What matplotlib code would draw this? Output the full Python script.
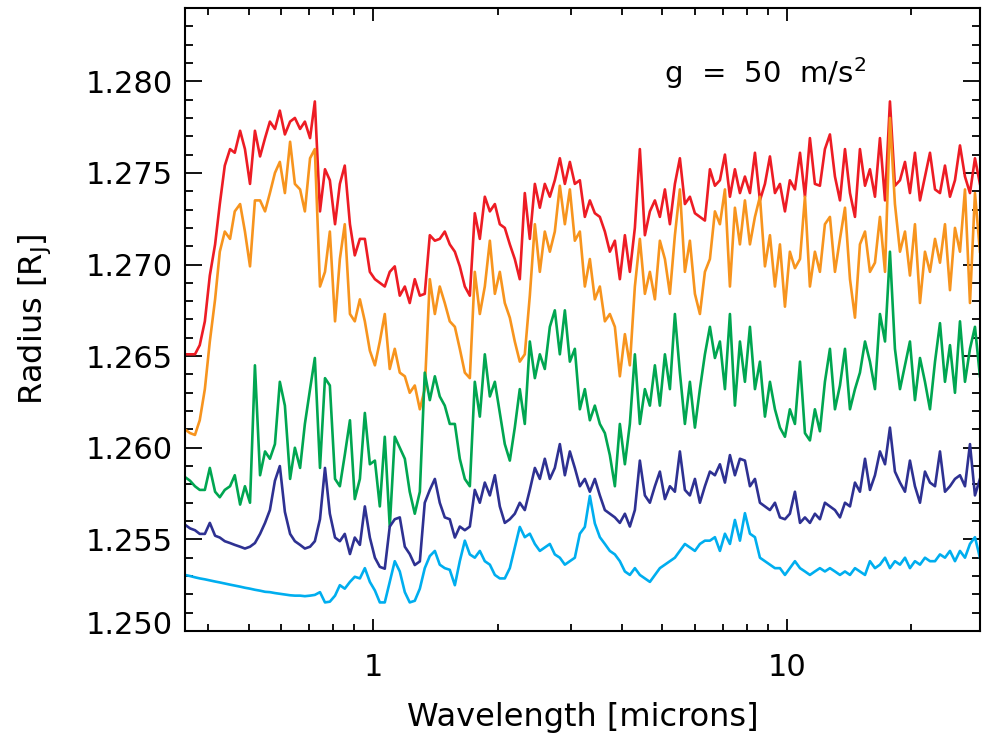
import matplotlib
matplotlib.use('Agg')
import matplotlib.pyplot as plt
import matplotlib.ticker as ticker
import matplotlib.transforms as mtransforms
import numpy as np

# model transit radius spectra, g = 50 m/s^2

wavelength = [0.351, 0.361, 0.371, 0.381, 0.392, 0.403, 0.415, 0.426, 0.438, 0.451,
              0.463, 0.477, 0.490, 0.504, 0.518, 0.533, 0.548, 0.563, 0.579, 0.595,
              0.612, 0.630, 0.647, 0.666, 0.684, 0.704, 0.723, 0.744, 0.765, 0.786,
              0.809, 0.831, 0.854, 0.879, 0.903, 0.929, 0.955, 0.982, 1.010, 1.038,
              1.067, 1.097, 1.128, 1.160, 1.193, 1.226, 1.261, 1.297, 1.333, 1.371,
              1.410, 1.449, 1.490, 1.532, 1.576, 1.620, 1.666, 1.713, 1.761, 1.811,
              1.862, 1.915, 1.969, 2.024, 2.081, 2.140, 2.200, 2.262, 2.326, 2.392,
              2.460, 2.529, 2.600, 2.674, 2.749, 2.827, 2.907, 2.989, 3.073, 3.160,
              3.249, 3.341, 3.435, 3.532, 3.632, 3.734, 3.840, 3.948, 4.060, 4.174,
              4.292, 4.413, 4.538, 4.666, 4.798, 4.933, 5.073, 5.216, 5.363, 5.514,
              5.670, 5.830, 5.995, 6.164, 6.338, 6.517, 6.701, 6.890, 7.085, 7.285,
              7.490, 7.702, 7.919, 8.143, 8.373, 8.609, 8.852, 9.102, 9.359, 9.623,
              9.895, 10.17, 10.46, 10.76, 11.06, 11.37, 11.69, 12.02, 12.36, 12.71,
              13.07, 13.44, 13.82, 14.21, 14.61, 15.02, 15.45, 15.88, 16.33, 16.79,
              17.27, 17.75, 18.25, 18.77, 19.30, 19.84, 20.40, 20.98, 21.57, 22.18,
              22.81, 23.45, 24.11, 24.79, 25.49, 26.21, 26.95, 27.71, 28.49, 29.29]

radius_red = [1.2651, 1.2651, 1.2651, 1.2656, 1.2669, 1.2694, 1.2711, 1.2733, 1.2754, 1.2763,
              1.2761, 1.2773, 1.2763, 1.2744, 1.2773, 1.2759, 1.2769, 1.2778, 1.2774, 1.2784,
              1.2771, 1.2778, 1.2780, 1.2774, 1.2778, 1.2769, 1.2789, 1.2729, 1.2752, 1.2746,
              1.2722, 1.2744, 1.2754, 1.2722, 1.2705, 1.2714, 1.2714, 1.2696, 1.2692, 1.2690,
              1.2688, 1.2696, 1.2699, 1.2683, 1.2688, 1.2679, 1.2692, 1.2683, 1.2684, 1.2716,
              1.2713, 1.2714, 1.2718, 1.2711, 1.2707, 1.2699, 1.2688, 1.2683, 1.2728, 1.2714,
              1.2737, 1.2729, 1.2733, 1.2722, 1.2720, 1.2711, 1.2703, 1.2692, 1.2739, 1.2714,
              1.2744, 1.2731, 1.2744, 1.2737, 1.2746, 1.2758, 1.2744, 1.2756, 1.2744, 1.2746,
              1.2726, 1.2735, 1.2728, 1.2726, 1.2718, 1.2707, 1.2713, 1.2692, 1.2716, 1.2696,
              1.2720, 1.2763, 1.2716, 1.2729, 1.2735, 1.2726, 1.2741, 1.2722, 1.2744, 1.2758,
              1.2733, 1.2737, 1.2728, 1.2726, 1.2724, 1.2752, 1.2743, 1.2746, 1.2760, 1.2737,
              1.2752, 1.2739, 1.2748, 1.2739, 1.2761, 1.2735, 1.2744, 1.2759, 1.2739, 1.2744,
              1.2729, 1.2746, 1.2741, 1.2761, 1.2737, 1.2769, 1.2744, 1.2743, 1.2763, 1.2771,
              1.2748, 1.2735, 1.2763, 1.2739, 1.2726, 1.2763, 1.2743, 1.2752, 1.2737, 1.2769,
              1.2735, 1.2789, 1.2743, 1.2746, 1.2756, 1.2739, 1.2761, 1.2735, 1.2748, 1.2761,
              1.2741, 1.2739, 1.2754, 1.2737, 1.2746, 1.2765, 1.2748, 1.2739, 1.2758, 1.2744]

radius_orange = [1.2610, 1.2608, 1.2607, 1.2615, 1.2632, 1.2658, 1.2681, 1.2707, 1.2718, 1.2714,
                 1.2729, 1.2733, 1.2718, 1.2699, 1.2735, 1.2735, 1.2729, 1.2739, 1.2750, 1.2756,
                 1.2739, 1.2767, 1.2744, 1.2741, 1.2729, 1.2758, 1.2763, 1.2688, 1.2696, 1.2718,
                 1.2669, 1.2703, 1.2722, 1.2673, 1.2669, 1.2681, 1.2669, 1.2653, 1.2645, 1.2658,
                 1.2673, 1.2643, 1.2654, 1.2641, 1.2639, 1.2630, 1.2634, 1.2621, 1.2632, 1.2692,
                 1.2673, 1.2688, 1.2679, 1.2669, 1.2666, 1.2654, 1.2641, 1.2638, 1.2696, 1.2673,
                 1.2688, 1.2713, 1.2684, 1.2696, 1.2679, 1.2671, 1.2658, 1.2647, 1.2651, 1.2683,
                 1.2722, 1.2696, 1.2718, 1.2707, 1.2718, 1.2743, 1.2722, 1.2741, 1.2713, 1.2718,
                 1.2688, 1.2703, 1.2681, 1.2688, 1.2669, 1.2673, 1.2666, 1.2639, 1.2662, 1.2645,
                 1.2688, 1.2714, 1.2684, 1.2696, 1.2681, 1.2713, 1.2703, 1.2684, 1.2716, 1.2741,
                 1.2696, 1.2713, 1.2684, 1.2673, 1.2696, 1.2703, 1.2729, 1.2722, 1.2741, 1.2688,
                 1.2731, 1.2711, 1.2735, 1.2711, 1.2726, 1.2737, 1.2699, 1.2716, 1.2688, 1.2711,
                 1.2677, 1.2707, 1.2698, 1.2703, 1.2737, 1.2688, 1.2707, 1.2696, 1.2722, 1.2726,
                 1.2696, 1.2714, 1.2731, 1.2692, 1.2671, 1.2711, 1.2718, 1.2696, 1.2701, 1.2726,
                 1.2696, 1.2780, 1.2733, 1.2707, 1.2718, 1.2694, 1.2722, 1.2679, 1.2707, 1.2696,
                 1.2714, 1.2701, 1.2722, 1.2686, 1.2720, 1.2707, 1.2741, 1.2679, 1.2739, 1.2707]

radius_green = [1.2584, 1.2582, 1.2579, 1.2577, 1.2577, 1.2589, 1.2576, 1.2573, 1.2577, 1.2579,
                1.2585, 1.2569, 1.2579, 1.2570, 1.2645, 1.2585, 1.2598, 1.2594, 1.2602, 1.2636,
                1.2623, 1.2583, 1.2600, 1.2589, 1.2613, 1.2632, 1.2649, 1.2589, 1.2638, 1.2634,
                1.2583, 1.2579, 1.2596, 1.2615, 1.2572, 1.2583, 1.2619, 1.2591, 1.2593, 1.2568,
                1.2606, 1.2557, 1.2606, 1.2600, 1.2594, 1.2576, 1.2564, 1.2576, 1.2641, 1.2626,
                1.2639, 1.2628, 1.2623, 1.2613, 1.2613, 1.2594, 1.2583, 1.2579, 1.2636, 1.2617,
                1.2651, 1.2628, 1.2636, 1.2619, 1.2602, 1.2593, 1.2611, 1.2632, 1.2613, 1.2658,
                1.2638, 1.2651, 1.2643, 1.2666, 1.2675, 1.2651, 1.2675, 1.2647, 1.2654, 1.2621,
                1.2632, 1.2615, 1.2623, 1.2613, 1.2608, 1.2596, 1.2579, 1.2613, 1.2591, 1.2613,
                1.2651, 1.2613, 1.2632, 1.2623, 1.2645, 1.2623, 1.2651, 1.2632, 1.2673, 1.2641,
                1.2613, 1.2636, 1.2611, 1.2632, 1.2651, 1.2666, 1.2649, 1.2658, 1.2632, 1.2673,
                1.2623, 1.2658, 1.2636, 1.2666, 1.2632, 1.2647, 1.2617, 1.2636, 1.2621, 1.2611,
                1.2606, 1.2621, 1.2613, 1.2647, 1.2608, 1.2604, 1.2621, 1.2609, 1.2636, 1.2654,
                1.2621, 1.2634, 1.2654, 1.2621, 1.2632, 1.2641, 1.2658, 1.2647, 1.2632, 1.2673,
                1.2658, 1.2707, 1.2654, 1.2632, 1.2645, 1.2658, 1.2626, 1.2649, 1.2636, 1.2621,
                1.2647, 1.2668, 1.2636, 1.2656, 1.2630, 1.2669, 1.2636, 1.2654, 1.2666, 1.2639]

radius_navy = [1.2558, 1.2556, 1.2555, 1.2553, 1.2553, 1.2559, 1.2552, 1.2551, 1.2549, 1.2548,
               1.2547, 1.2546, 1.2545, 1.2546, 1.2548, 1.2553, 1.2559, 1.2566, 1.2582, 1.2590,
               1.2565, 1.2553, 1.2549, 1.2547, 1.2545, 1.2546, 1.2549, 1.2561, 1.2589, 1.2564,
               1.2551, 1.2549, 1.2553, 1.2542, 1.2551, 1.2547, 1.2568, 1.2551, 1.2540, 1.2535,
               1.2534, 1.2557, 1.2561, 1.2562, 1.2546, 1.2542, 1.2536, 1.2538, 1.2570, 1.2577,
               1.2583, 1.2570, 1.2562, 1.2561, 1.2551, 1.2557, 1.2555, 1.2557, 1.2577, 1.2570,
               1.2581, 1.2574, 1.2585, 1.2568, 1.2559, 1.2561, 1.2564, 1.2570, 1.2566, 1.2577,
               1.2589, 1.2583, 1.2594, 1.2583, 1.2589, 1.2602, 1.2585, 1.2598, 1.2589, 1.2579,
               1.2583, 1.2576, 1.2583, 1.2574, 1.2566, 1.2564, 1.2562, 1.2559, 1.2564, 1.2557,
               1.2566, 1.2593, 1.2574, 1.2570, 1.2579, 1.2587, 1.2572, 1.2579, 1.2576, 1.2598,
               1.2577, 1.2574, 1.2583, 1.2570, 1.2579, 1.2587, 1.2585, 1.2591, 1.2581, 1.2596,
               1.2585, 1.2594, 1.2593, 1.2579, 1.2583, 1.2570, 1.2568, 1.2566, 1.2570, 1.2562,
               1.2561, 1.2564, 1.2576, 1.2559, 1.2562, 1.2559, 1.2564, 1.2561, 1.2570, 1.2568,
               1.2566, 1.2562, 1.2570, 1.2568, 1.2581, 1.2576, 1.2594, 1.2577, 1.2585, 1.2598,
               1.2591, 1.2611, 1.2587, 1.2581, 1.2576, 1.2593, 1.2579, 1.2570, 1.2587, 1.2581,
               1.2579, 1.2598, 1.2576, 1.2579, 1.2583, 1.2585, 1.2579, 1.2602, 1.2574, 1.2583]

radius_blue = [1.25306, 1.25300, 1.25293, 1.25287, 1.25282, 1.25276, 1.25270, 1.25265, 1.25259, 1.25253,
               1.25248, 1.25242, 1.25236, 1.25231, 1.25225, 1.25220, 1.25214, 1.25212, 1.25207, 1.25203,
               1.25199, 1.25195, 1.25193, 1.25193, 1.25190, 1.25193, 1.25197, 1.25212, 1.25156, 1.25160,
               1.25193, 1.25250, 1.25231, 1.25268, 1.25296, 1.25287, 1.25343, 1.25268, 1.25221, 1.25156,
               1.25156, 1.25268, 1.25381, 1.25325, 1.25212, 1.25156, 1.25165, 1.25231, 1.25343, 1.25409,
               1.25437, 1.25362, 1.25343, 1.25334, 1.25250, 1.25381, 1.25493, 1.25418, 1.25400, 1.25437,
               1.25381, 1.25362, 1.25306, 1.25287, 1.25287, 1.25343, 1.25456, 1.25568, 1.25512, 1.25531,
               1.25475, 1.25437, 1.25456, 1.25475, 1.25418, 1.25400, 1.25362, 1.25381, 1.25400, 1.25531,
               1.25568, 1.25737, 1.25587, 1.25512, 1.25475, 1.25437, 1.25418, 1.25381, 1.25325, 1.25306,
               1.25343, 1.25306, 1.25287, 1.25268, 1.25306, 1.25343, 1.25362, 1.25381, 1.25400, 1.25437,
               1.25475, 1.25456, 1.25437, 1.25475, 1.25493, 1.25493, 1.25512, 1.25437, 1.25531, 1.25475,
               1.25606, 1.25493, 1.25643, 1.25531, 1.25512, 1.25400, 1.25381, 1.25362, 1.25343, 1.25343,
               1.25306, 1.25343, 1.25381, 1.25343, 1.25325, 1.25306, 1.25325, 1.25343, 1.25325, 1.25343,
               1.25325, 1.25306, 1.25325, 1.25306, 1.25343, 1.25325, 1.25306, 1.25381, 1.25343, 1.25362,
               1.25400, 1.25343, 1.25381, 1.25362, 1.25400, 1.25343, 1.25381, 1.25362, 1.25400, 1.25381,
               1.25381, 1.25418, 1.25400, 1.25437, 1.25381, 1.25437, 1.25400, 1.25475, 1.25512, 1.25400]

series = [radius_red, radius_orange, radius_green, radius_navy, radius_blue]
colors = ['#ED1C24', '#F7941E', '#00A651', '#2E3192', '#00AEEF']

fig = plt.figure(figsize=(9.82, 7.36), dpi=100)
ax = fig.add_axes([185/982, 1-631/736, 795/982, 623/736])

for r, c in zip(series, colors):
    ax.plot(wavelength, r, color=c, linewidth=1.9)

ax.set_xscale('log')
ax.set_xlim(0.351, 29.3)
ax.set_ylim(1.250, 1.284)

ax.yaxis.set_major_locator(ticker.MultipleLocator(0.005))
ax.yaxis.set_minor_locator(ticker.MultipleLocator(0.001))
ax.yaxis.set_major_formatter(ticker.FormatStrFormatter('%.3f'))
ax.xaxis.set_major_locator(ticker.FixedLocator([1, 10]))
ax.xaxis.set_major_formatter(ticker.FuncFormatter(lambda v, p: '%g' % v))
ax.xaxis.set_minor_locator(ticker.LogLocator(base=10, subs=np.arange(2, 10), numticks=20))
ax.xaxis.set_minor_formatter(ticker.NullFormatter())

ax.tick_params(which='both', direction='in', top=True, right=True, width=1.3)
ax.tick_params(axis='y', which='major', length=12, labelsize=22, pad=9)
ax.tick_params(axis='y', which='minor', length=6)
ax.tick_params(axis='x', which='major', length=9, labelsize=22, pad=16)
ax.tick_params(axis='x', which='minor', length=5)
for s in ax.spines.values():
    s.set_linewidth(1.5)

ax.set_xlabel('Wavelength [microns]', fontsize=23, labelpad=14)
ax.set_ylabel('Radius [R$_\\mathrm{J}$]', fontsize=23, labelpad=23)

ax.text(0.6025, 0.8796, 'g  =  50  m/s$^2$', transform=ax.transAxes,
        fontsize=21, ha='left', va='baseline')

# lift the bottom y label a little, as in the original
fig.canvas.draw()
lift = mtransforms.ScaledTranslation(0, 0.09, fig.dpi_scale_trans)
for t in ax.yaxis.get_major_ticks():
    if t.label1.get_text() == '1.250':
        t.label1.set_transform(t.label1.get_transform() + lift)

plt.savefig('out.png', dpi=100)
